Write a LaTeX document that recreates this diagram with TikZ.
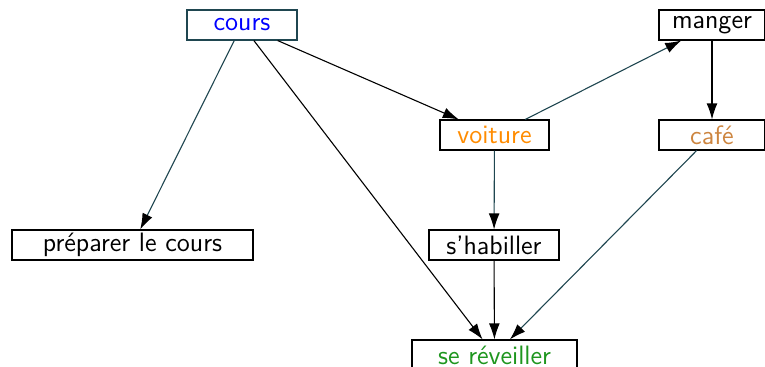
\documentclass[tikz,border=0pt]{standalone}
\usepackage{tikz}
\usetikzlibrary{arrows.meta,positioning}
\definecolor{InkTeal}{HTML}{1F4650}
\definecolor{CoursBlue}{HTML}{0000FF}
\definecolor{CarOrange}{HTML}{FF8C00}
\definecolor{CafeBrown}{HTML}{CD853F}
\definecolor{WakeGreen}{HTML}{1E961E}

\begin{document}
\begin{tikzpicture}[
    x=0.5pt, y=-0.5pt,
    task/.style={draw=black, fill=white, line width=0.55pt, minimum height=15pt, inner sep=0pt, font=\sffamily\fontsize{13.3}{16}\selectfont},
    arrow/.style={-{Latex[length=8pt, width=5.4pt, color=black]}, line width=0.55pt, color=black},
    tealarrow/.style={arrow, color=InkTeal}
  ]
    \useasboundingbox (0,0) rectangle (765,366);
    \node[task, draw=InkTeal, minimum width=55pt, text=CoursBlue] (cours) at (242,25) {cours};
    \node[task, minimum width=53pt] (manger) at (712,25) {manger};
    \node[task, minimum width=54.5pt, text=CarOrange] (voiture) at (494.5,135) {voiture};
    \node[task, minimum width=53pt, text=CafeBrown] (cafe) at (712,135) {café};
    \node[task, minimum width=120.5pt] (prep) at (132.5,245) {préparer le cours};
    \node[task, minimum width=65pt] (habiller) at (494,245) {s’habiller};
    \node[task, minimum width=82.5pt, text=WakeGreen] (reveil) at (494.5,355) {se réveiller};
    \draw[tealarrow] (cours) -- (prep);
    \draw[arrow] (cours) -- (reveil);
    \draw[arrow] (cours) -- (voiture);
    \draw[tealarrow] (voiture) -- (manger);
    \draw[arrow] (manger) -- (cafe);
    \draw[tealarrow] (voiture) -- (habiller);
    \draw[tealarrow] (cafe) -- (reveil);
    \draw[arrow] (habiller) -- (reveil);
  \end{tikzpicture}
\end{document}
